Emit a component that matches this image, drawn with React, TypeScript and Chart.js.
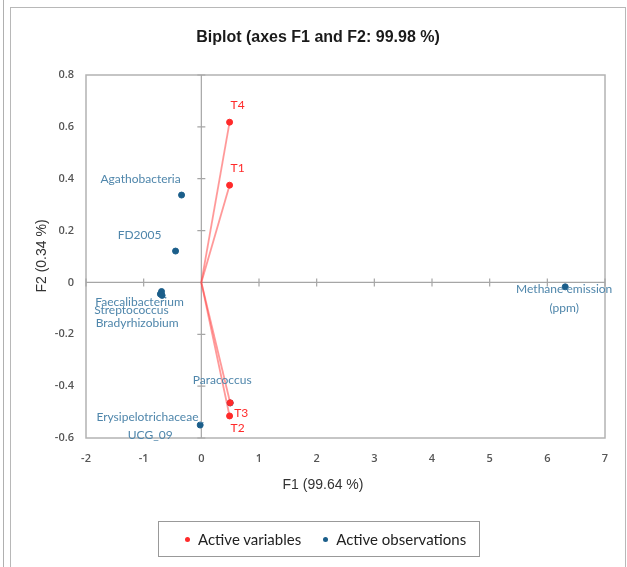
import React, { useEffect, useRef } from "react";
import { Chart, registerables } from "chart.js";

Chart.register(...registerables);

// ---- Data ----
const variableNames = ["T1", "T2", "T3", "T4"];
const variableF1 = [0.49, 0.49, 0.5, 0.49];
const variableF2 = [0.375, -0.515, -0.464, 0.618];

const observationNames = [
  "Agathobacteria",
  "FD2005",
  "Faecalibacterium",
  "Streptococcus",
  "Bradyrhizobium",
  "Paracoccus",
  "Erysipelotrichaceae_\nUCG_09",
  "Methane emission\n(ppm)",
];
const observationF1 = [-0.343, -0.447, -0.69, -0.71, -0.68, 0.5, -0.02, 6.31];
const observationF2 = [0.337, 0.121, -0.035, -0.045, -0.05, -0.465, -0.55, -0.017];

const xTicks = [-2, -1, 0, 1, 2, 3, 4, 5, 6, 7];
const yTicks = [0.8, 0.6, 0.4, 0.2, 0, -0.2, -0.4, -0.6];

const titleText = "Biplot (axes F1 and F2: 99.98 %)";
const xTitle = "F1 (99.64 %)";
const yTitle = "F2 (0.34 %)";
const legendLabels = ["Active variables", "Active observations"];

// ---- Styles (label offsets in px, relative to the point) ----
const RED = "#ff2a2a";
const RED_LINE = "rgba(255,70,70,0.55)";
const BLUE_PT = "#1b5e8a";
const BLUE_TXT = "#4f86ab";
const varLabelOffsets = [
  [8, -17],
  [8, 12],
  [11, 10],
  [8, -17],
];
const obsLabelOffsets = [
  [-41, -16],
  [-36, -16],
  [-22, 11],
  [-29, 16],
  [-25, 28],
  [-8, -23],
  [-50, -8],
  [-1, 2],
];
const lineGaps = [19, 19, 19, 19, 19, 19, 18, 19];

const overlayPlugin = {
  id: "biplotOverlay",
  beforeDatasetsDraw(chart: any) {
    const { ctx, chartArea: a, scales } = chart;
    const sx = scales.x;
    const sy = scales.y;
    ctx.save();
    ctx.strokeStyle = "#b3b3b3";
    ctx.lineWidth = 1.5;
    ctx.strokeRect(a.left, a.top, a.right - a.left, a.bottom - a.top);
    const x0 = sx.getPixelForValue(0);
    const y0 = sy.getPixelForValue(0);
    ctx.strokeStyle = "#a6a6a6";
    ctx.lineWidth = 1.2;
    ctx.beginPath();
    ctx.moveTo(a.left, y0);
    ctx.lineTo(a.right, y0);
    ctx.moveTo(x0, a.top);
    ctx.lineTo(x0, a.bottom);
    yTicks.forEach((v) => {
      const p = sy.getPixelForValue(v);
      ctx.moveTo(x0 - 4, p);
      ctx.lineTo(x0 + 4, p);
    });
    xTicks.forEach((v) => {
      const p = sx.getPixelForValue(v);
      ctx.moveTo(p, y0 - 4);
      ctx.lineTo(p, y0 + 4);
    });
    ctx.stroke();
    // title
    ctx.fillStyle = "#1a1a1a";
    ctx.font = "bold 16px 'Liberation Sans', Arial, sans-serif";
    ctx.textAlign = "center";
    ctx.textBaseline = "middle";
    ctx.fillText(titleText, 318, 38);
    // axis titles
    ctx.fillStyle = "#333";
    ctx.font = "14px 'Liberation Sans', Arial, sans-serif";
    ctx.fillText(xTitle, 323, 485);
    ctx.save();
    ctx.translate(42, 256);
    ctx.rotate(-Math.PI / 2);
    ctx.fillText(yTitle, 0, 0);
    ctx.restore();
    ctx.restore();
  },
  afterDatasetsDraw(chart: any) {
    const { ctx, scales } = chart;
    const sx = scales.x;
    const sy = scales.y;
    ctx.save();
    ctx.textAlign = "center";
    ctx.textBaseline = "middle";
    ctx.font = "12px Lato, 'Open Sans', sans-serif";
    ctx.fillStyle = BLUE_TXT;
    observationNames.forEach((name, i) => {
      const px = sx.getPixelForValue(observationF1[i]);
      const py = sy.getPixelForValue(observationF2[i]);
      const [dx, dy] = obsLabelOffsets[i];
      name.split("\n").forEach((line, k) => {
        ctx.fillText(line, px + dx, py + dy + k * lineGaps[i]);
      });
    });
    ctx.fillStyle = RED;
    variableNames.forEach((name, i) => {
      const px = sx.getPixelForValue(variableF1[i]);
      const py = sy.getPixelForValue(variableF2[i]);
      const [dx, dy] = varLabelOffsets[i];
      ctx.fillText(name, px + dx, py + dy);
    });
    ctx.restore();
  },
};

export default function App() {
  const ref = useRef<HTMLCanvasElement | null>(null);
  useEffect(() => {
    if (!ref.current) return;
    const vectorSets = variableNames.map((n, i) => ({
      type: "scatter" as const,
      label: "vec-" + n,
      data: [
        { x: 0, y: 0 },
        { x: variableF1[i], y: variableF2[i] },
      ],
      showLine: true,
      borderColor: RED_LINE,
      borderWidth: 1.8,
      pointRadius: 0,
      order: 3,
    }));
    const chart = new Chart(ref.current, {
      type: "scatter",
      data: {
        datasets: [
          ...vectorSets,
          {
            label: "Active observations",
            data: observationF1.map((x, i) => ({ x, y: observationF2[i] })),
            backgroundColor: BLUE_PT,
            borderColor: BLUE_PT,
            pointRadius: 3,
            order: 2,
          },
          {
            label: "Active variables",
            data: variableF1.map((x, i) => ({ x, y: variableF2[i] })),
            backgroundColor: RED,
            borderColor: RED,
            pointRadius: 3,
            order: 1,
          },
        ] as any,
      },
      options: {
        responsive: false,
        animation: false,
        layout: { padding: { left: 0, top: 75, right: 22, bottom: 0 } },
        plugins: {
          legend: { display: false },
          title: { display: false },
          tooltip: { enabled: false },
        },
        scales: {
          x: {
            type: "linear",
            min: -2,
            max: 7,
            afterFit: (s: any) => {
              s.height = 129;
            },
            afterBuildTicks: (s: any) => {
              s.ticks = xTicks.map((v) => ({ value: v }));
            },
            grid: { display: false, drawTicks: false },
            border: { display: false },
            ticks: {
              padding: 14,
              color: "#555",
              font: { family: "'Open Sans', sans-serif", size: 11, weight: "600" },
              callback: (v: any) => String(v),
            },
          },
          y: {
            type: "linear",
            min: -0.6,
            max: 0.8,
            afterFit: (s: any) => {
              s.width = 86;
            },
            afterBuildTicks: (s: any) => {
              s.ticks = yTicks.map((v) => ({ value: v }));
            },
            grid: { display: false, drawTicks: false },
            border: { display: false },
            ticks: {
              padding: 12,
              color: "#555",
              font: { family: "'Open Sans', sans-serif", size: 11, weight: "600" },
              callback: (v: any) => String(Math.round(v * 10) / 10),
            },
          },
        },
      },
      plugins: [overlayPlugin],
    });
    return () => chart.destroy();
  }, []);

  return (
    <div
      style={{
        position: "fixed",
        left: 0,
        top: 0,
        width: 627,
        height: 567,
        background: "#fff",
        overflow: "hidden",
      }}
    >
      <div style={{ position: "absolute", left: 3, top: 0, width: 1, height: 567, background: "#b0b0b0" }} />
      <div
        style={{
          position: "absolute",
          left: 10,
          top: 7,
          width: 616,
          height: 580,
          border: "1px solid #b8b8b8",
          boxSizing: "border-box",
        }}
      />
      <canvas ref={ref} width={627} height={567} style={{ position: "absolute", left: 0, top: 0 }} />
      <div
        style={{
          position: "absolute",
          left: 158,
          top: 521,
          width: 322,
          height: 36,
          border: "1.5px solid #999",
          boxSizing: "border-box",
          display: "flex",
          alignItems: "center",
          paddingLeft: 26,
          fontFamily: "Lato, 'Open Sans', sans-serif",
          fontSize: 15,
          color: "#222",
          background: "transparent",
        }}
      >
        <span style={{ display: "inline-block", width: 5, height: 5, borderRadius: 3, background: RED, marginRight: 8 }} />
        <span style={{ marginRight: 22 }}>{legendLabels[0]}</span>
        <span style={{ display: "inline-block", width: 5, height: 5, borderRadius: 3, background: BLUE_PT, marginRight: 8 }} />
        <span>{legendLabels[1]}</span>
      </div>
    </div>
  );
}
